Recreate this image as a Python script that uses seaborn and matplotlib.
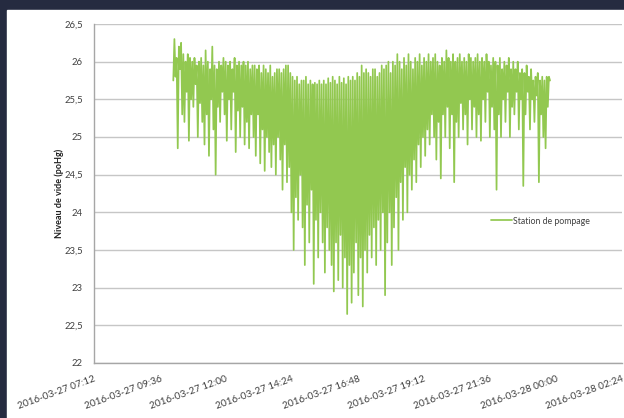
import numpy as np
import pandas as pd
import matplotlib
matplotlib.use("Agg")
import matplotlib.pyplot as plt
import matplotlib.dates as mdates
from matplotlib.patches import Rectangle
from matplotlib.ticker import FuncFormatter
import seaborn as sns

# Values (vacuum level, poHg), in time order
niveau = [
    25.75, 26.3, 25.8, 26.05, 24.85, 26.2, 25.9, 26.25, 25.3,
    26.1, 25.2, 26.0, 25.6, 26.1, 24.95, 26.05, 25.5, 26.0,
    25.4, 26.05, 25.7, 25.95, 25.0, 26.0, 25.45, 26.05, 25.2,
    25.95, 24.9, 26.15, 25.3, 26.0, 24.75, 25.9, 25.5, 26.2,
    25.1, 25.95, 24.5, 25.9, 25.4, 26.0, 25.2, 25.95, 25.6,
    26.05, 25.3, 26.0, 24.95, 25.95, 25.5, 26.0, 25.1, 25.9,
    25.6, 26.05, 24.8, 25.95, 25.35, 26.0, 25.0, 25.95, 25.4,
    26.0, 24.9, 25.95, 25.2, 26.0, 24.85, 25.9, 25.3, 25.95,
    25.0, 25.95, 24.75, 25.9, 25.3, 25.95, 24.65, 25.85, 25.1,
    25.95, 24.55, 25.9, 25.0, 25.85, 24.8, 25.95, 24.6, 25.8,
    24.9, 25.85, 24.5, 25.9, 25.0, 25.9, 24.7, 25.85, 24.3,
    25.9, 24.9, 25.95, 24.4, 25.95, 24.6, 25.85, 24.0, 25.8,
    23.5, 25.75, 24.2, 25.8, 23.9, 25.7, 24.5, 25.75, 23.8,
    25.75, 23.3, 25.8, 24.1, 25.7, 23.6, 25.75, 24.3, 25.7,
    23.05, 25.72, 23.9, 25.7, 23.4, 25.75, 24.0, 25.7, 23.6,
    25.75, 23.2, 25.7, 23.8, 25.78, 23.5, 25.72, 23.3, 25.8,
    22.95, 25.75, 23.6, 25.7, 23.1, 25.8, 23.7, 25.72, 23.0,
    25.78, 23.4, 25.7, 22.65, 25.8, 23.3, 25.75, 22.8, 25.8,
    23.2, 25.75, 23.6, 25.85, 22.9, 25.8, 23.4, 25.95, 22.75,
    25.85, 23.5, 25.9, 23.2, 25.85, 23.7, 25.8, 23.4, 25.9,
    23.8, 25.9, 23.3, 25.8, 23.9, 25.85, 23.5, 25.95, 24.0,
    25.9, 22.9, 25.95, 23.6, 26.0, 24.0, 25.85, 23.3, 26.0,
    23.8, 25.95, 24.2, 26.1, 23.5, 26.0, 24.4, 25.9, 23.9,
    26.05, 24.6, 25.95, 24.0, 26.1, 24.5, 26.0, 24.3, 25.9,
    24.7, 26.05, 24.4, 26.0, 24.9, 26.1, 24.6, 25.95, 25.0,
    26.05, 24.75, 26.0, 25.1, 26.1, 24.9, 26.0, 25.3, 26.05,
    25.0, 26.1, 24.7, 26.0, 25.2, 25.95, 24.45, 26.05, 25.3,
    26.0, 25.0, 26.15, 25.4, 26.05, 24.85, 26.0, 25.3, 26.1,
    24.4, 26.0, 25.2, 26.05, 25.0, 26.1, 25.45, 26.0, 25.1,
    26.05, 25.3, 26.0, 24.9, 26.1, 25.5, 26.05, 25.1, 26.0,
    25.4, 26.05, 25.0, 26.1, 25.3, 26.0, 24.95, 26.05, 25.5,
    26.0, 25.2, 26.1, 25.6, 26.0, 25.0, 25.95, 25.4, 26.05,
    25.1, 26.0, 24.3, 25.95, 25.3, 26.05, 25.0, 25.9, 25.5,
    26.0, 25.2, 25.95, 25.6, 26.05, 25.0, 25.9, 25.4, 26.0,
    25.3, 25.9, 25.6, 26.0, 25.1, 25.85, 25.5, 25.9, 24.35,
    25.85, 25.3, 25.95, 25.6, 25.8, 25.1, 25.9, 25.5, 25.75,
    25.2, 25.8, 25.55, 25.85, 24.4, 25.75, 25.3, 25.8, 25.0,
    25.75, 24.85, 25.8, 25.4, 25.8, 25.75,
]
debut = "2016-03-27 10:05"
fin = "2016-03-27 23:47"
serie = "Station de pompage"

y_ticks = [22, 22.5, 23, 23.5, 24, 24.5, 25, 25.5, 26, 26.5]
x_ticks = pd.date_range("2016-03-27 07:12", periods=9, freq="144min")

df = pd.DataFrame({
    "temps": pd.date_range(debut, fin, periods=len(niveau)),
    "niveau": niveau,
})

sns.set_theme(style="white")
plt.rcParams["font.family"] = ["Lato", "DejaVu Sans"]

fig = plt.figure(figsize=(6.24, 4.18), dpi=100)
fig.patch.set_facecolor("#252b40")
# white card behind the chart (dark frame shows on top and left)
fig.patches.append(Rectangle((7 / 624, 0), 1, 1 - 10 / 418,
                             transform=fig.transFigure, color="white", zorder=-5))

ax = fig.add_axes([94 / 624, 55 / 418, 528 / 624, 339 / 418])
ax.set_zorder(2)
ax.set_facecolor("white")

sns.lineplot(data=df, x="temps", y="niveau", ax=ax, color="#92c850",
             linewidth=1.25, label=serie, estimator=None)

ax.set_ylim(22, 26.5)
ax.set_yticks(y_ticks)
ax.yaxis.set_major_formatter(FuncFormatter(lambda v, _: f"{v:g}".replace(".", ",")))
ax.set_xlim(x_ticks[0], x_ticks[-1])
ax.set_xticks(x_ticks)
ax.xaxis.set_major_formatter(mdates.DateFormatter("%Y-%m-%d %H:%M"))

ax.grid(axis="y", color="#c6c6c6", linewidth=1.0)
ax.set_axisbelow(True)
for side in ["top", "right"]:
    ax.spines[side].set_visible(False)
for side in ["left", "bottom"]:
    ax.spines[side].set_color("#a6a6a6")
    ax.spines[side].set_linewidth(1.0)

ax.tick_params(axis="both", length=0, colors="#404040", labelsize=6.8)
ax.tick_params(axis="y", pad=8)
ax.tick_params(axis="x", pad=8)
for lbl in ax.get_xticklabels():
    lbl.set_rotation(20)
    lbl.set_ha("right")
    lbl.set_rotation_mode("anchor")
    lbl.set_fontsize(7.2)

ax.set_xlabel("")
ax.set_ylabel("Niveau de vide (poHg)", fontsize=6.5, fontweight="bold",
              color="#202020", labelpad=0.5)

leg = ax.legend(loc="center left", bbox_to_anchor=(487 / 624, 1 - 221 / 418),
                bbox_transform=fig.transFigure, frameon=False, fontsize=6.3,
                handlelength=2.4, handletextpad=0.1, borderpad=0)
for t in leg.get_texts():
    t.set_color("#404040")

fig.savefig("out.png", dpi=100, facecolor=fig.get_facecolor())
